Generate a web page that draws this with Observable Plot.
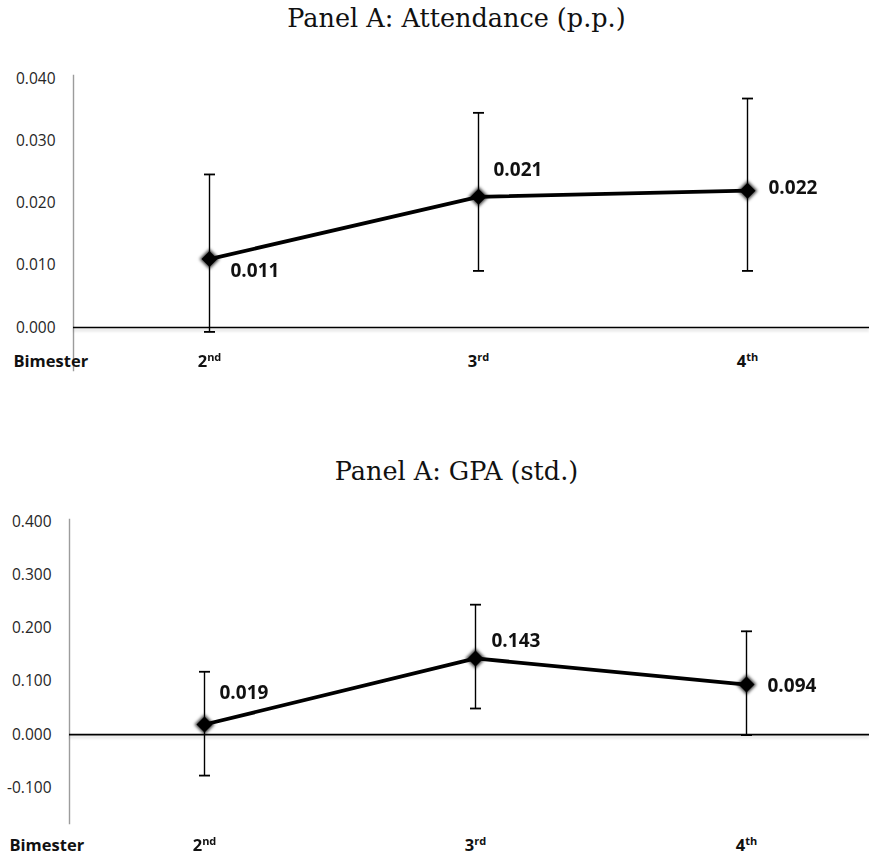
<!DOCTYPE html>
<html>
<head>
<meta charset="utf-8">
<script src="https://cdn.jsdelivr.net/npm/d3@7"></script>
<script src="https://cdn.jsdelivr.net/npm/@observablehq/plot@0.6"></script>
<style>
  html, body { margin: 0; padding: 0; background: #fff; overflow: hidden; }
  #page { position: relative; width: 869px; height: 857px; }
  .title {
    position: absolute; left: 44px; width: 825px; text-align: center;
    font-family: "DejaVu Serif", serif; font-size: 25.5px; line-height: 30px; color: #111;
  }
  .panel { position: absolute; left: 0; }
</style>
</head>
<body>
<div id="page">
  <div class="title" style="top:3px">Panel A: Attendance (p.p.)</div>
  <div class="panel" id="attendance" style="top:40px"></div>
  <div class="title" style="top:456px">Panel A: GPA (std.)</div>
  <div class="panel" id="gpa" style="top:495px"></div>
</div>
<script>
// Bimesters on the horizontal axis
const bimesters = ["2nd", "3rd", "4th"];

// Attendance effect (p.p.) with confidence interval bounds
const attendance = [0.011, 0.021, 0.022];
const attendanceLow = [-0.0007, 0.0091, 0.0091];
const attendanceHigh = [0.0246, 0.0345, 0.0368];
const attendanceTicks = [0, 0.01, 0.02, 0.03, 0.04];

// GPA effect (std.) with confidence interval bounds
const gpa = [0.019, 0.143, 0.094];
const gpaLow = [-0.077, 0.049, -0.001];
const gpaHigh = [0.118, 0.244, 0.194];
const gpaTicks = [-0.1, 0, 0.1, 0.2, 0.3, 0.4];

// horizontal cap drawn at both ends of each interval
const cap = {
  draw(context, size) {
    const w = Math.sqrt(size / Math.PI);
    context.moveTo(-w, 0);
    context.lineTo(w, 0);
  }
};

function panel({values, low, high, ticks, yDomain, xRange, height, marginTop, marginBottom, marginLeft, labelOffsets, catDy}) {
  const rows = bimesters.map((b, i) => ({bimester: b, value: values[i], low: low[i], high: high[i]}));
  const catStyle = {fontWeight: "bold", fontSize: 16.5, fill: "#111", lineAnchor: "middle"};
  return Plot.plot({
    width: 869,
    height,
    marginTop,
    marginBottom,
    marginLeft,
    marginRight: 0,
    style: {fontFamily: "'Open Sans', sans-serif", background: "#fff", overflow: "visible"},
    x: {type: "point", domain: bimesters, range: xRange, padding: 0, axis: null},
    y: {domain: yDomain, axis: null},
    marks: [
      Plot.frame({anchor: "left", stroke: "#9c9c9c", strokeWidth: 1.4}),
      Plot.ruleY([0], {stroke: "#000", strokeOpacity: 0.08, strokeWidth: 3.5, dy: 2.5, imageFilter: "blur(0.8px)"}),
      Plot.ruleY([0], {stroke: "#000", strokeWidth: 1.6}),
      Plot.axisY({ticks, tickSize: 0, tickPadding: 18, tickFormat: d => d.toFixed(3), fontSize: 15.5, fill: "#262626", label: null}),
      Plot.ruleX(rows, {x: "bimester", y1: "low", y2: "high", stroke: "#000", strokeWidth: 1.4}),
      Plot.dot(rows, {x: "bimester", y: "low", symbol: cap, r: 5.5, stroke: "#000", strokeWidth: 1.8}),
      Plot.dot(rows, {x: "bimester", y: "high", symbol: cap, r: 5.5, stroke: "#000", strokeWidth: 1.8}),
      Plot.line(rows, {x: "bimester", y: "value", stroke: "#000", strokeWidth: 3.8}),
      Plot.dot(rows, {x: "bimester", y: "value", symbol: "diamond2", r: 9, fill: "#000", fillOpacity: 0.75, imageFilter: "blur(1.6px)"}),
      Plot.dot(rows, {x: "bimester", y: "value", symbol: "diamond2", r: 7.2, fill: "#000"}),
      ...rows.map((row, i) => Plot.text([row], {
        x: "bimester", y: "value", text: d => d.value.toFixed(3),
        dx: labelOffsets[i][0], dy: labelOffsets[i][1],
        textAnchor: "start", lineAnchor: "middle", fontWeight: "bold", fontSize: 19, fill: "#111"
      })),
      Plot.text(bimesters, {x: d => d, frameAnchor: "bottom", dy: catDy, ...catStyle}),
      Plot.text(["Bimester"], {frameAnchor: "bottom-left", textAnchor: "start", dx: -60, dy: catDy, ...catStyle})
    ]
  });
}

// raise the ordinal suffix of "2nd", "3rd", "4th"
function superscripts(svg) {
  d3.select(svg).selectAll("text").each(function () {
    const m = /^(\d)(st|nd|rd|th)$/.exec(this.textContent);
    if (!m) return;
    const t = d3.select(this);
    t.text(m[1]);
    t.append("tspan").attr("font-size", 11).attr("dy", -5.5).text(m[2]);
  });
}

const chartA = panel({
  values: attendance, low: attendanceLow, high: attendanceHigh, ticks: attendanceTicks,
  yDomain: [-0.0069, 0.0405], xRange: [208, 747.5],
  height: 340, marginTop: 35, marginBottom: 10, marginLeft: 73,
  labelOffsets: [[21, 12], [15, -27], [21, -3]], catDy: -9
});
superscripts(chartA);
document.getElementById("attendance").append(chartA);

const chartB = panel({
  values: gpa, low: gpaLow, high: gpaHigh, ticks: gpaTicks,
  yDomain: [-0.167, 0.404], xRange: [204, 746],
  height: 362, marginTop: 24, marginBottom: 34, marginLeft: 69,
  labelOffsets: [[15, -32], [16, -18], [21, 1.5]], catDy: 22
});
superscripts(chartB);
document.getElementById("gpa").append(chartB);
</script>
</body>
</html>
